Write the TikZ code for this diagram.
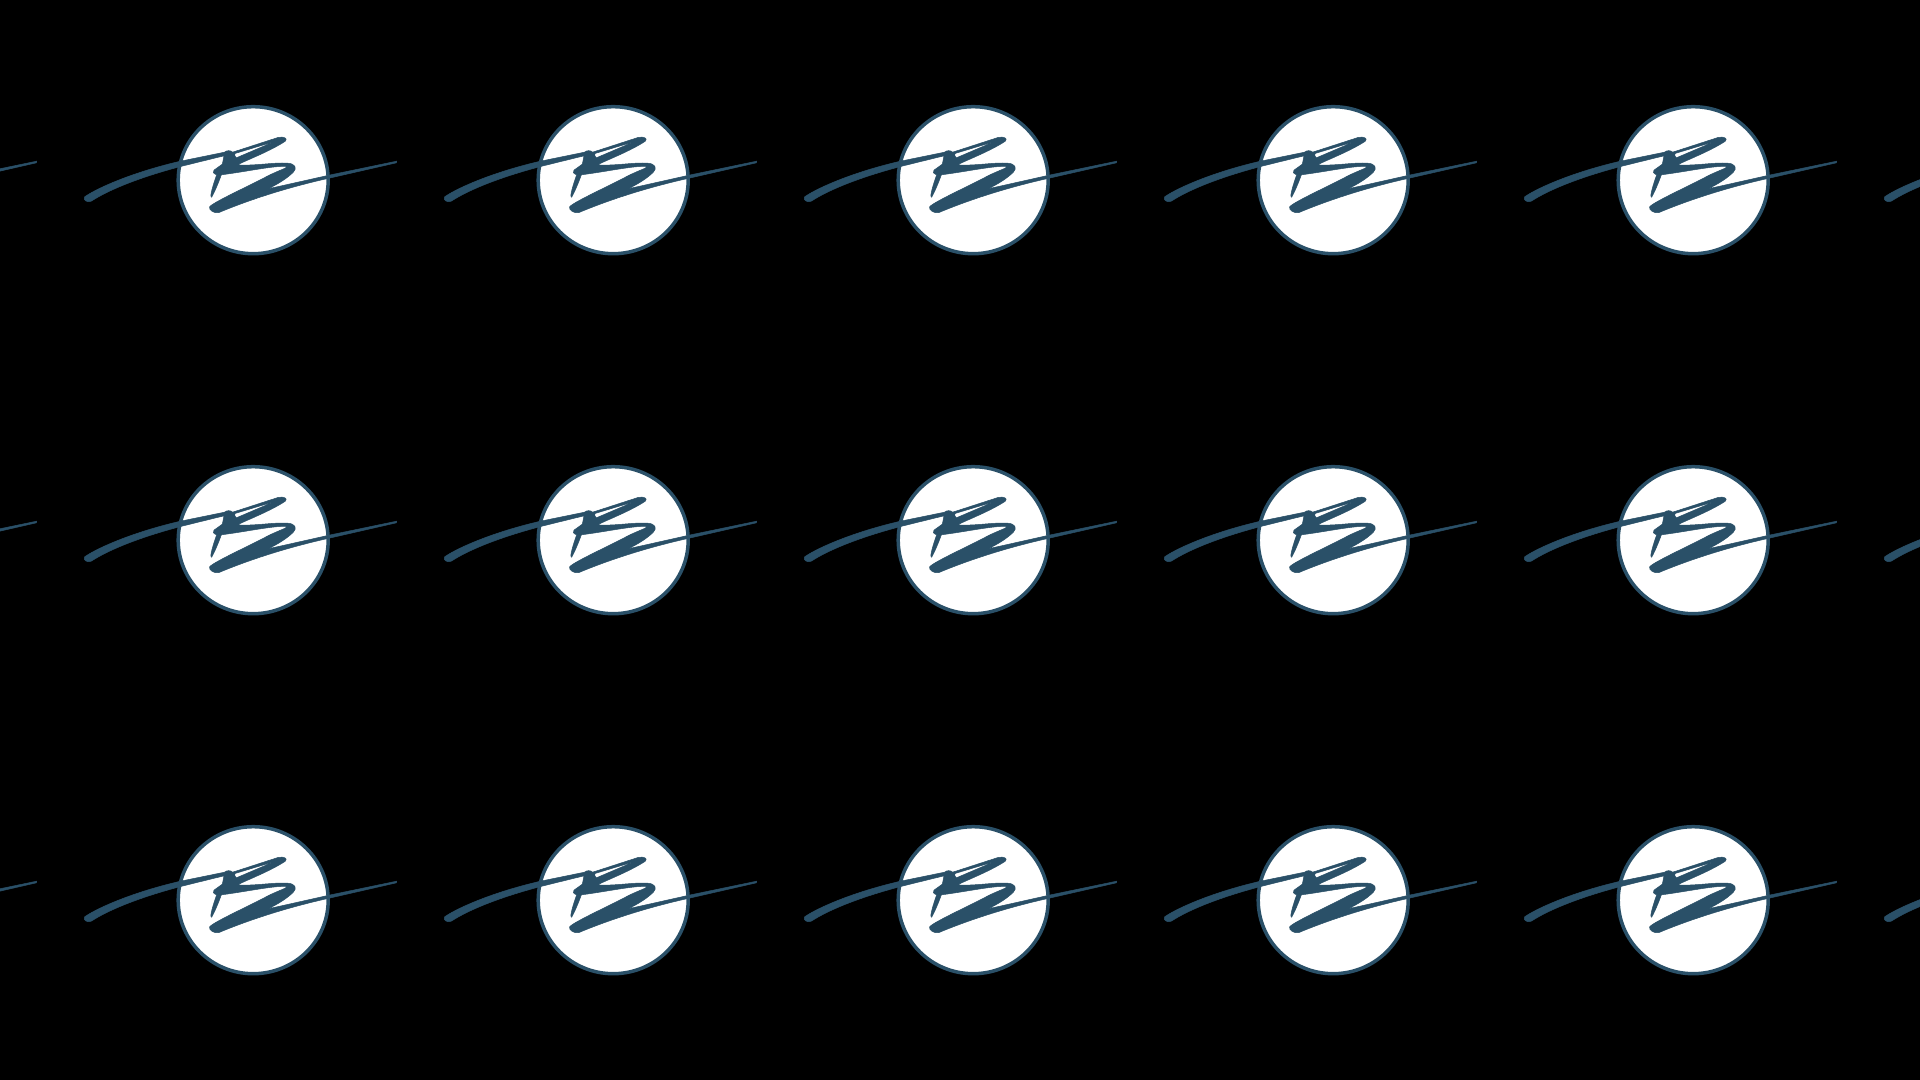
\documentclass[tikz,border=0pt]{standalone}
\usepackage{xcolor}
\definecolor{logoblue}{HTML}{2A5068}
\tikzset{
  disc/.style={draw=logoblue, line width=1.75pt, fill=white},
  stroke/.style={fill=logoblue, draw=logoblue, line width=0.25pt, even odd rule},
  pics/logo/.style={code={
    \draw[disc] (-0.8,0.7) ellipse (75 and 73.5);
    % signature, traced in 3x units about the disc centre
    \begin{scope}[x=0.1667pt,y=-0.1667pt,shift={(-550,-268)}]
      \fill[stroke]
        (42,320) .. controls (70,300) and (170,250) .. (330,213)
        -- (462,186) .. controls (468,180) and (480,180) .. (486,186)
        -- (622,142) .. controls (640,138) and (652,145) .. (644,153)
        .. controls (600,182) and (540,205) .. (500,224)
        .. controls (550,228) and (610,216) .. (650,219)
        .. controls (674,220) and (680,234) .. (668,246)
        .. controls (650,264) and (625,280) .. (592,296)
        -- (780,254) -- (978,213)
        .. controls (980,215) and (980,217) .. (977,218)
        -- (780,263) .. controls (690,283) and (570,315) .. (445,367)
        .. controls (432,372) and (412,358) .. (417,350)
        .. controls (425,337) and (540,285) .. (590,258)
        .. controls (625,240) and (650,234) .. (648,229)
        .. controls (610,226) and (530,244) .. (452,254)
        .. controls (444,277) and (432,305) .. (423,321)
        .. controls (418,322) and (420,305) .. (438,254)
        .. controls (428,250) and (425,245) .. (430,240)
        -- (455,222) -- (460,197) -- (330,229)
        .. controls (220,258) and (120,295) .. (62,333)
        .. controls (50,338) and (36,330) .. (42,320) -- cycle
        (497,203) -- (612,154) -- (493,190) .. controls (491,195) and (493,200) .. (497,203) -- cycle;
    \end{scope}
  }}
}
\begin{document}
\begin{tikzpicture}[x=0.5pt,y=-0.5pt]
  \fill[black] (0,0) rectangle (1920,1080);
  \useasboundingbox (0,0) rectangle (1920,1080);
  \clip (0,0) rectangle (1920,1080);
  \foreach \row in {0,1,2} {
    \foreach \col in {-1,...,5} {
      \pic at ({254+360*\col},{179.5+360*\row}) {logo};
    }
  }
\end{tikzpicture}
\end{document}
